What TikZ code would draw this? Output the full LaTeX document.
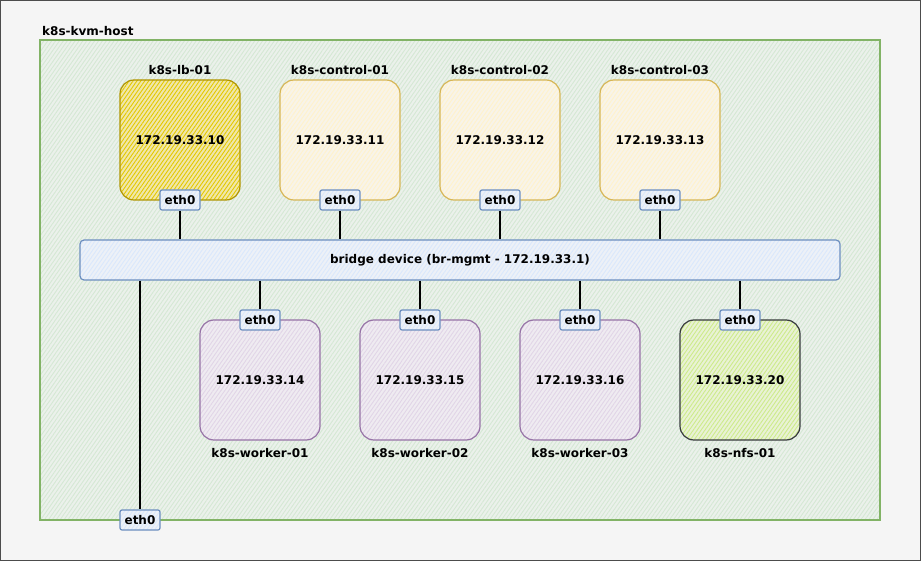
\documentclass[tikz,border=0pt]{standalone}
\usepackage{fontspec}
\setmainfont{DejaVu Sans}
\usetikzlibrary{patterns.meta}
\definecolor{hostF}{HTML}{D5E8D4}\definecolor{hostS}{HTML}{82B366}
\definecolor{lbF}{HTML}{E3C800}\definecolor{lbS}{HTML}{B09500}
\definecolor{ctlF}{HTML}{FFF2CC}\definecolor{ctlS}{HTML}{D6B656}
\definecolor{wrkF}{HTML}{E1D5E7}\definecolor{wrkS}{HTML}{9673A6}
\definecolor{nfsF}{HTML}{CDEB8B}\definecolor{nfsS}{HTML}{36393D}
\definecolor{ethF}{HTML}{DAE8FC}\definecolor{ethS}{HTML}{6C8EBF}
\definecolor{bgc}{HTML}{F5F5F5}
\tikzset{
  hatch/.style={preaction={fill=#1!30!bgc}, preaction={pattern={Lines[angle=55,distance=3.2pt,line width=0.9pt]}, pattern color=#1}},
  vm/.style={rounded corners=14pt, minimum width=120pt, minimum height=120pt, line width=1.2pt, inner sep=0pt, font=\bfseries\fontsize{12}{14}\selectfont},
  ethbox/.style={draw=ethS, line width=1.2pt, rounded corners=2pt, hatch=ethF, minimum width=40pt, minimum height=20pt, inner sep=0pt, font=\bfseries\fontsize{12}{14}\selectfont},
  txt/.style={font=\bfseries\fontsize{12}{14}\selectfont, inner sep=0pt},
  wire/.style={line width=1.6pt, black}
}
\begin{document}
\begin{tikzpicture}[x=1pt,y=-1pt]
\useasboundingbox (0,0) rectangle (921,561);
\fill[bgc] (0,0) rectangle (921,561);
\draw[gray!60!black, line width=1.2pt] (0.6,0.6) rectangle (920.4,560.4);
% host
\node[txt, anchor=west] (hostlbl) at (42,31) {k8s-kvm-host};
\node[draw=hostS, line width=1.2pt, hatch=hostF, minimum width=840pt, minimum height=480pt, inner sep=0pt] (host) at (460,280) {};
% bridge
\node[draw=ethS, line width=1.2pt, rounded corners=4pt, hatch=ethF, minimum width=760pt, minimum height=40pt, inner sep=0pt, txt] (br) at (460,260) {bridge device (br-mgmt - 172.19.33.1)};
% top VMs
\node[vm, draw=lbS, hatch=lbF] (lb) at (180,140) {172.19.33.10};
\node[vm, draw=ctlS, hatch=ctlF] (c1) at (340,140) {172.19.33.11};
\node[vm, draw=ctlS, hatch=ctlF] (c2) at (500,140) {172.19.33.12};
\node[vm, draw=ctlS, hatch=ctlF] (c3) at (660,140) {172.19.33.13};
\node[txt] (lblb) at (180,70) {k8s-lb-01};
\node[txt] (lc1) at (340,70) {k8s-control-01};
\node[txt] (lc2) at (500,70) {k8s-control-02};
\node[txt] (lc3) at (660,70) {k8s-control-03};
% bottom VMs
\node[vm, draw=wrkS, hatch=wrkF] (w1) at (260,380) {172.19.33.14};
\node[vm, draw=wrkS, hatch=wrkF] (w2) at (420,380) {172.19.33.15};
\node[vm, draw=wrkS, hatch=wrkF] (w3) at (580,380) {172.19.33.16};
\node[vm, draw=nfsS, hatch=nfsF] (nfs) at (740,380) {172.19.33.20};
\node[txt] (lw1) at (260,453) {k8s-worker-01};
\node[txt] (lw2) at (420,453) {k8s-worker-02};
\node[txt] (lw3) at (580,453) {k8s-worker-03};
\node[txt] (lnfs) at (740,453) {k8s-nfs-01};
% eth boxes
\node[ethbox] (elb) at (180,200) {eth0};
\node[ethbox] (ec1) at (340,200) {eth0};
\node[ethbox] (ec2) at (500,200) {eth0};
\node[ethbox] (ec3) at (660,200) {eth0};
\node[ethbox] (ew1) at (260,320) {eth0};
\node[ethbox] (ew2) at (420,320) {eth0};
\node[ethbox] (ew3) at (580,320) {eth0};
\node[ethbox] (enfs) at (740,320) {eth0};
\node[ethbox] (ehost) at (140,520) {eth0};
% wires
\draw[wire] (elb.south) -- (elb.south |- br.north);
\draw[wire] (ec1.south) -- (ec1.south |- br.north);
\draw[wire] (ec2.south) -- (ec2.south |- br.north);
\draw[wire] (ec3.south) -- (ec3.south |- br.north);
\draw[wire] (ew1.north |- br.south) -- (ew1.north);
\draw[wire] (ew2.north |- br.south) -- (ew2.north);
\draw[wire] (ew3.north |- br.south) -- (ew3.north);
\draw[wire] (enfs.north |- br.south) -- (enfs.north);
\draw[wire] (ehost.north |- br.south) -- (ehost.north);
\end{tikzpicture}
\end{document}
